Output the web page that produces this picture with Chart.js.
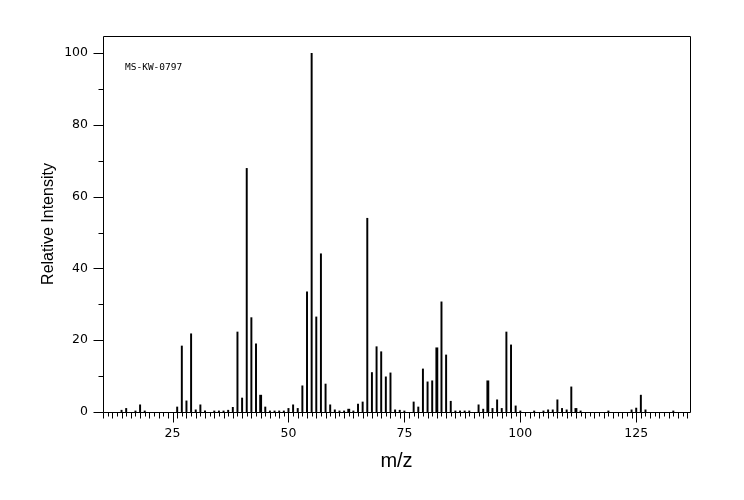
<!DOCTYPE html>
<html>
<head>
<meta charset="utf-8">
<script src="https://cdn.jsdelivr.net/npm/chart.js@4.4.0/dist/chart.umd.min.js"></script>
<style>
  html, body { margin: 0; padding: 0; background: #fff; }
  #wrap { width: 744px; height: 500px; }
</style>
</head>
<body>
<div id="wrap"><canvas id="myChart" width="744" height="500"></canvas></div>
<script>
// mass spectrum peaks
const mz = [14, 15, 17, 18, 19, 26, 27, 28, 29, 30, 31, 32, 34, 35, 36, 37, 38, 39, 40, 41,
  42, 43, 44, 45, 46, 47, 48, 49, 50, 51, 52, 53, 54, 55, 56, 57, 58, 59, 60, 61,
  62, 63, 64, 65, 66, 67, 68, 69, 70, 71, 72, 73, 74, 75, 77, 78, 79, 80, 81, 82,
  83, 84, 85, 86, 87, 88, 89, 91, 92, 93, 94, 95, 96, 97, 98, 99, 100, 103, 105, 106,
  107, 108, 109, 110, 111, 112, 113, 119, 124, 125, 126, 127, 133];
const intensity = [0.5, 1.0, 0.3, 2.0, 0.3, 1.4, 18.4, 3.1, 21.8, 0.6, 2.0, 0.3, 0.3, 0.3, 0.3, 0.5, 1.3, 22.3, 3.9, 67.9,
  26.3, 19.0, 4.7, 1.4, 0.3, 0.3, 0.3, 0.3, 1.0, 2.0, 1.0, 7.3, 33.5, 100, 26.5, 44.1, 7.8, 2.0, 0.6, 0.3,
  0.3, 0.8, 0.3, 2.2, 2.8, 54.0, 11.0, 18.2, 16.8, 9.8, 10.9, 0.6, 0.5, 0.3, 2.8, 1.4, 12.0, 8.4, 8.7, 17.9,
  30.7, 15.9, 3.0, 0.3, 0.3, 0.3, 0.3, 2.0, 0.8, 8.7, 1.0, 3.4, 1.0, 22.3, 18.7, 1.7, 0.3, 0.3, 0.3, 0.6,
  0.6, 3.4, 1.0, 0.6, 7.0, 1.0, 0.3, 0.3, 0.6, 1.1, 4.7, 0.6, 0.3];
// peaks drawn a bit heavier in the original
const thickPeaks = [44, 63, 82, 93, 112];

const xTickLabels = [25, 50, 75, 100, 125];
const yTickLabels = [0, 20, 40, 60, 80, 100];
const sampleId = 'MS-KW-0797';

const thinPts = [];
const thickPts = [];
mz.forEach((m, i) => {
  const p = { x: m, y: intensity[i] };
  if (thickPeaks.includes(m)) thickPts.push(p); else thinPts.push(p);
});

// frame, minor tick marks and the sample id
const decor = {
  id: 'decor',
  afterDatasetsDraw(chart) {
    const { ctx, chartArea: a, scales: { x, y } } = chart;
    ctx.save();
    ctx.strokeStyle = '#000';
    ctx.lineWidth = 1;
    ctx.beginPath();
    ctx.rect(a.left + 0.5, a.top + 0.5, a.right - a.left, a.bottom - a.top);
    // x ticks, one per unit
    for (let m = Math.ceil(x.min); m <= x.max; m++) {
      const px = Math.round(x.getPixelForValue(m)) + 0.5;
      const len = m % 25 === 0 ? 10 : (m % 2 === 0 ? 6 : 4);
      ctx.moveTo(px, a.bottom + 0.5);
      ctx.lineTo(px, a.bottom + 0.5 + len);
    }
    // y ticks, every 10
    for (let v = 0; v <= 100; v += 10) {
      const py = Math.round(y.getPixelForValue(v)) + 0.5;
      const len = v % 20 === 0 ? 10 : 5;
      ctx.moveTo(a.left + 0.5, py);
      ctx.lineTo(a.left + 0.5 - len, py);
    }
    ctx.stroke();

    ctx.fillStyle = '#000';
    ctx.font = '9.5px "DejaVu Sans Mono"';
    ctx.textBaseline = 'alphabetic';
    ctx.fillText(sampleId, a.left + 22, a.top + 33.5);
    ctx.restore();
  }
};

const ctx = document.getElementById('myChart').getContext('2d');
new Chart(ctx, {
  type: 'bar',
  data: {
    datasets: [
      { data: thinPts, backgroundColor: '#000', barThickness: 1.3, borderWidth: 0 },
      { data: thickPts, backgroundColor: '#000', barThickness: 2.2, borderWidth: 0 }
    ]
  },
  options: {
    responsive: false,
    animation: false,
    grouped: false,
    layout: { padding: { top: 36, right: 54, left: 0, bottom: 0 } },
    plugins: { legend: { display: false }, tooltip: { enabled: false } },
    scales: {
      x: {
        type: 'linear',
        offset: false,
        min: 10,
        max: 136.6,
        grid: { display: false, drawTicks: false },
        border: { display: false },
        afterBuildTicks: s => { s.ticks = xTickLabels.map(v => ({ value: v })); },
        afterFit: s => { s.height = 88; },
        ticks: {
          color: '#000',
          padding: 14,
          maxRotation: 0,
          autoSkip: false,
          font: { family: 'DejaVu Sans', size: 12.5 }
        },
        title: {
          display: true,
          text: 'm/z',
          color: '#000',
          font: { family: 'Liberation Sans', size: 20 },
          padding: { top: 0, bottom: 27 }
        }
      },
      y: {
        min: 0,
        max: 104.8,
        grid: { display: false, drawTicks: false },
        border: { display: false },
        afterBuildTicks: s => { s.ticks = yTickLabels.map(v => ({ value: v })); },
        afterFit: s => { s.width = 103; },
        ticks: {
          color: '#000',
          padding: 15,
          font: { family: 'DejaVu Sans', size: 12.5 }
        },
        title: {
          display: true,
          text: 'Relative Intensity',
          color: '#000',
          font: { family: 'Liberation Sans', size: 16 },
          padding: { top: 39, bottom: 0 }
        }
      }
    }
  },
  plugins: [decor]
});
</script>
</body>
</html>
